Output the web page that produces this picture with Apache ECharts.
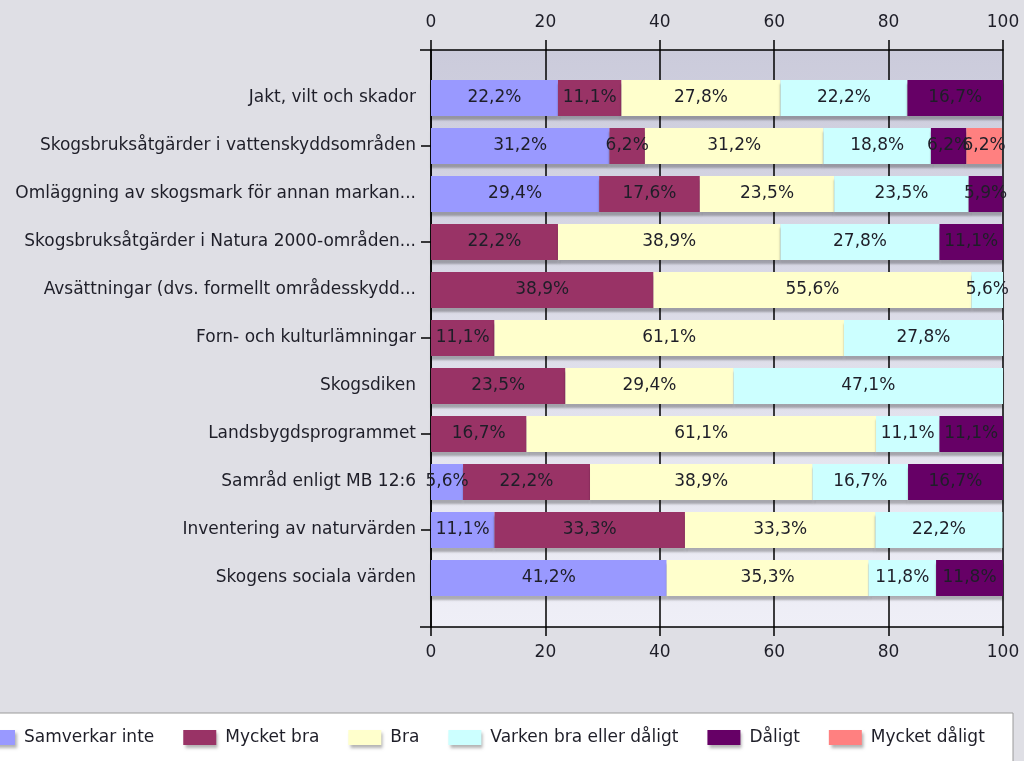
<!DOCTYPE html>
<html>
<head>
<meta charset="utf-8">
<title>Samverkan</title>
<script src="https://cdn.jsdelivr.net/npm/echarts@6/dist/echarts.min.js"></script>
<style>
    html, body { margin: 0; padding: 0; background: #dfdfe5; }
    #chart { width: 1024px; height: 761px; }
</style>
</head>
<body>
<div id="chart"></div>
<script>
// kategorier, uppifrån och ner
var categories = [
    'Jakt, vilt och skador',
    'Skogsbruksåtgärder i vattenskyddsområden',
    'Omläggning av skogsmark för annan markan...',
    'Skogsbruksåtgärder i Natura 2000-områden...',
    'Avsättningar (dvs. formellt områdesskydd...',
    'Forn- och kulturlämningar',
    'Skogsdiken',
    'Landsbygdsprogrammet',
    'Samråd enligt MB 12:6',
    'Inventering av naturvärden',
    'Skogens sociala värden'
];

// andelar i procent per svarsalternativ
var samverkarInte = [22.2, 31.2, 29.4, 0, 0, 0, 0, 0, 5.6, 11.1, 41.2];
var mycketBra = [11.1, 6.2, 17.6, 22.2, 38.9, 11.1, 23.5, 16.7, 22.2, 33.3, 0];
var bra = [27.8, 31.2, 23.5, 38.9, 55.6, 61.1, 29.4, 61.1, 38.9, 33.3, 35.3];
var varken = [22.2, 18.8, 23.5, 27.8, 5.6, 27.8, 47.1, 11.1, 16.7, 22.2, 11.8];
var daligt = [16.7, 6.2, 5.9, 11.1, 0, 0, 0, 11.1, 16.7, 0, 11.8];
var mycketDaligt = [0, 6.2, 0, 0, 0, 0, 0, 0, 0, 0, 0];

var seriesNames = ['Samverkar inte', 'Mycket bra', 'Bra', 'Varken bra eller dåligt', 'Dåligt', 'Mycket dåligt'];
var seriesData = [samverkarInte, mycketBra, bra, varken, daligt, mycketDaligt];
var colors = ['#9999ff', '#993366', '#ffffcc', '#ccffff', '#660066', '#ff8080'];

var font = 'DejaVu Sans';
var textColor = '#1e1e28';

var myChart = echarts.init(document.getElementById('chart'));

// stapelserierna
var series = seriesData.map(function (data, i) {
    return {
        name: seriesNames[i],
        type: 'bar',
        stack: 'total',
        xAxisIndex: 2,
        yAxisIndex: 1,
        barCategoryGap: '25%',
        data: data,
        itemStyle: {
            color: colors[i],
            shadowColor: 'rgba(0,0,0,0.28)',
            shadowOffsetY: 4,
            shadowBlur: 2
        },
        label: {
            show: true,
            position: 'inside',
            color: textColor,
            fontFamily: font,
            fontSize: 17,
            formatter: function (p) {
                return p.value ? p.value.toFixed(1).replace('.', ',') + '%' : '';
            }
        }
    };
});

var option = {
    backgroundColor: '#dfdfe5',
    animation: false,
    color: colors,
    // vit ram runt förklaringen
    graphic: [{
        type: 'rect',
        shape: { x: -2, y: 713, width: 1015, height: 60 },
        style: { fill: '#ffffff', stroke: '#9a9a9a', lineWidth: 1 }
    }],
    legend: {
        data: seriesNames,
        left: -18,
        top: 729,
        padding: 0,
        itemWidth: 33,
        itemHeight: 15,
        itemGap: 29,
        icon: 'rect',
        itemStyle: {
            shadowColor: 'rgba(0,0,0,0.3)',
            shadowOffsetX: 2,
            shadowOffsetY: 3,
            shadowBlur: 3
        },
        textStyle: {
            color: textColor,
            fontFamily: font,
            fontSize: 17,
            padding: [0, 0, 0, 4]
        }
    },
    grid: [
        // ytterram med axlar och bakgrund
        {
            left: 431, right: 21, top: 50, bottom: 134,
            show: true,
            borderWidth: 0,
            backgroundColor: new echarts.graphic.LinearGradient(0, 0, 0, 1, [
                { offset: 0, color: '#cbcbdb' },
                { offset: 1, color: '#efeff7' }
            ])
        },
        // staplarna
        { left: 431, right: 21, top: 74, bottom: 159 }
    ],
    xAxis: [
        {
            gridIndex: 0, type: 'value', position: 'top',
            min: 0, max: 100, interval: 20,
            axisLine: { show: true, onZero: false, lineStyle: { color: '#000', width: 1.5 } },
            axisTick: { show: true, length: 10, lineStyle: { color: '#000', width: 1.5 } },
            axisLabel: { margin: 19, color: textColor, fontFamily: font, fontSize: 17 },
            splitLine: { show: true, lineStyle: { color: '#000', width: 1.5 } }
        },
        {
            gridIndex: 0, type: 'value', position: 'bottom',
            min: 0, max: 100, interval: 20,
            axisLine: { show: true, onZero: false, lineStyle: { color: '#000', width: 1.5 } },
            axisTick: { show: true, length: 9, lineStyle: { color: '#000', width: 1.5 } },
            axisLabel: { margin: 17, color: textColor, fontFamily: font, fontSize: 17 },
            splitLine: { show: false }
        },
        {
            gridIndex: 1, type: 'value', min: 0, max: 100, show: false
        }
    ],
    yAxis: [
        {
            gridIndex: 0, type: 'value', min: 0, max: 1, interval: 1,
            axisLine: { show: true, onZero: false, lineStyle: { color: '#000', width: 1.5 } },
            axisTick: { show: true, length: 11, lineStyle: { color: '#000', width: 1.5 } },
            axisLabel: { show: false },
            splitLine: { show: false }
        },
        {
            gridIndex: 1, type: 'category', inverse: true,
            data: categories,
            axisLine: { show: false },
            axisTick: {
                show: true, length: 10, alignWithLabel: true,
                interval: function (index) { return index % 2 === 1; },
                lineStyle: { color: '#000', width: 1.5 }
            },
            axisLabel: { margin: 15, color: textColor, fontFamily: font, fontSize: 17, interval: 0 }
        }
    ],
    series: series
};

myChart.setOption(option);
</script>
</body>
</html>
